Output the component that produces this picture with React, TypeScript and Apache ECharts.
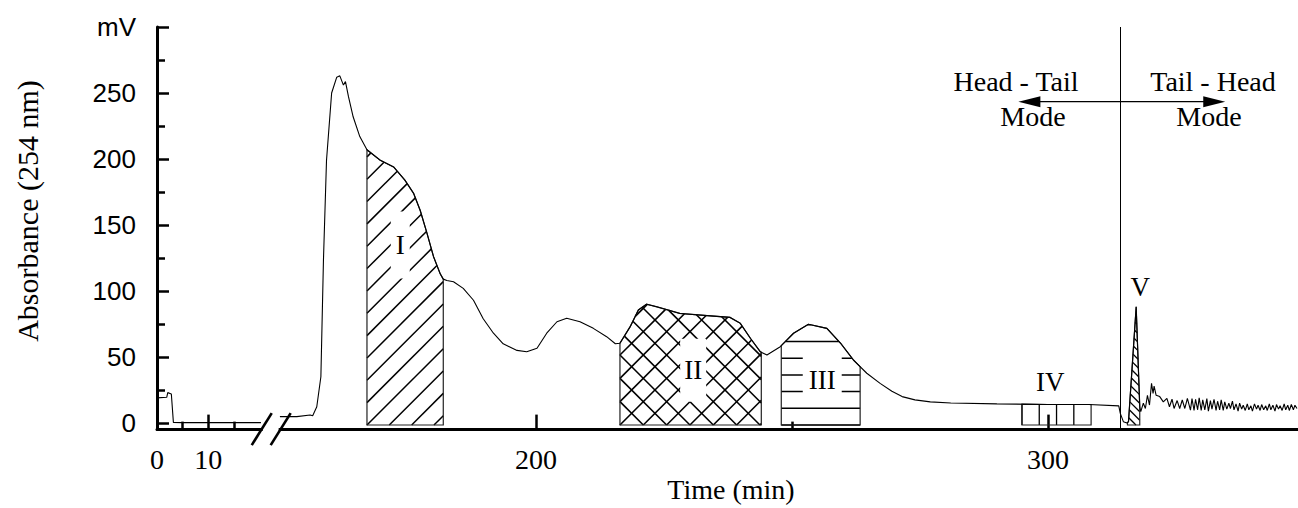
import React, { useEffect, useRef } from "react";
import * as echarts from "echarts";

// Time shift applied to the right-hand part of the broken time axis
const BREAK_SHIFT = 126;
const toAxis = (t: number) => (t < 100 ? t : t - BREAK_SHIFT);
const fromAxis = (v: number) => (v < 22 ? v : v + BREAK_SHIFT);

// ---- signal, first segment (0 - 20 min) ----
const leftTime = [0, 1.9, 2.1, 2.8, 3.2, 5, 10, 15, 20.3];
const leftValue = [19, 19.5, 23, 22, 0.5, 0.3, 0.3, 0.3, 0.3];

// ---- signal, second segment (150 - 348 min) ----
const rightTime = [
  150.0, 153.3, 155.9, 156.4, 157.2, 158.0, 158.5, 159.1, 160.1, 161.1, 161.7, 162.4, 162.8, 163.4,
  164.3, 165.6, 167.0, 169.6, 172.2, 174.4, 176.1, 177.4, 178.7, 180.0, 181.3, 181.9, 182.6, 183.9,
  185.8, 187.8, 189.7, 191.7, 193.6, 196.3, 198.2, 200.2, 202.1, 204.1, 206.0, 208.6, 211.2, 213.8,
  215.5, 216.4, 218.4, 220.0, 221.6, 223.6, 228.1, 234.7, 237.9, 239.9, 241.9, 243.8, 245.1, 247.7,
  250.3, 253.2, 256.8, 259.5, 262.0, 264.6, 267.2, 269.5, 271.5, 274.0, 277.0, 281.0, 290.0, 300.0,
  308.0, 313.8, 314.1, 314.7, 315.4, 315.7, 317.2, 317.9, 318.1, 318.6, 319.0, 319.4, 319.8, 320.2,
  320.5, 320.7, 321.1, 321.8, 322.5, 323.2, 323.7, 324.2, 324.6, 325.2, 325.7, 326.2, 326.7, 327.2,
  327.8, 328.1, 328.5, 328.8, 329.2, 329.5, 329.9, 330.2, 330.6, 331.0, 331.3, 331.7, 332.0, 332.4,
  332.8, 333.1, 333.5, 333.8, 334.2, 334.5, 334.9, 335.3, 335.6, 336.0, 336.3, 336.7, 337.1, 337.4,
  337.8, 338.1, 338.5, 338.9, 339.2, 339.6, 339.9, 340.3, 340.7, 341.0, 341.4, 341.7, 342.1, 342.5,
  342.8, 343.2, 343.5, 343.9, 344.3, 344.6, 345.0, 345.3, 345.7, 346.1, 346.4, 346.8, 347.1, 347.5,
  347.9, 348.2, 348.6,
];
const rightValue = [
  4.8, 4.8, 6.1, 5.5, 12.3, 35, 123, 199, 250, 262, 263, 256, 258.6, 247,
  232, 217, 207, 199, 194, 184, 174, 161, 144, 126, 113, 109, 108, 107,
  102, 93, 79, 68, 60, 55, 54, 56.6, 68, 76.7, 79.3, 76.7, 71.7, 65.4,
  60, 60.4, 73, 85.6, 90, 88, 83, 81, 80, 75.5, 64, 54, 51.5, 57.8,
  68, 74.8, 71.7, 60.4, 47.7, 37.7, 30, 24, 20, 17.5, 16, 15.2, 14.5, 14,
  14, 13, 7.3, 1, 0, 1, 88, 12.3, 8.6, 15, 11, 21, 13.6, 30,
  22.5, 28, 21, 20, 16, 18.7, 12.3, 18, 11, 17, 11, 17.4, 11, 18.7,
  9.8, 18.5, 9.5, 18, 10, 19, 9.5, 17.5, 10, 18.5, 9, 17, 10.5, 18,
  9.5, 16.5, 10, 17.5, 9.5, 16, 10.5, 15, 11, 16.5, 10, 14.5, 9, 15,
  10.5, 13.5, 9.5, 14.5, 10, 13, 9, 14.5, 10.5, 13.5, 9.5, 14, 10, 13,
  9.5, 14.5, 10, 13.5, 9, 14, 10.5, 13, 9.5, 14.5, 10, 13.5, 9.5, 14,
  10, 13.5, 11,
];

// ---- collected fractions ----
const regionLabels = ["I", "II", "III", "IV", "V"];
const regionStart = [167.0, 216.4, 247.9, 294.9, 315.5];
const regionEnd = [181.9, 244.0, 263.3, 308.4, 317.9];
const regionLabelTime = [173.5, 230.7, 255.9, 300.4, 318.0];
const regionLabelValue = [134.8, 40, 32.6, 31, 103];

// ---- axes ----
const xLabels = [0, 10, 200, 300];
const xMajorTicks = [10, 200, 300];
const xMinorTicks = [5, 15, 250];
const yLabels = [0, 50, 100, 150, 200, 250, 300];
const yMajorTicks = [0, 50, 100, 150, 200, 250, 300];
const yMinorTicks = [25, 75, 125, 175, 225, 275];
const breakTimes = [20.35, 150.05];
const dividerTime = 314.1;
const arrowTimes = [294.2, 334.6];
const arrowValue = 243.4;

const REGION_FLOOR = -1.5;
const SERIF = '"Liberation Serif", "Times New Roman", serif';
const SANS = '"Liberation Sans", Arial, sans-serif';

// hatch style per region (direction vectors in screen space)
const regionStyles: any[] = [
  { dirs: [[1, -1]], spacing: 15.8, lw: 1.5, pad: [20, 5] },
  { dirs: [[1, -1], [1, 1]], spacing: 16.5, lw: 1.6, pad: [18, 4] },
  { dirs: [[1, 0]], spacing: 16.7, lw: 1.5, pad: [12, 6] },
  { dirs: [[0, 1]], divisions: 4, lw: 1.3, pad: null },
  { dirs: [[1, 1]], spacing: 6, lw: 1.3, pad: null },
];

function curveAt(t: number) {
  for (let k = 0; k < rightTime.length - 1; k++) {
    if (t >= rightTime[k] && t <= rightTime[k + 1]) {
      const f = (t - rightTime[k]) / (rightTime[k + 1] - rightTime[k]);
      return rightValue[k] + f * (rightValue[k + 1] - rightValue[k]);
    }
  }
  return 0;
}

function hatchSegments(poly: number[][], dx: number, dy: number, spacing: number, anchor: number[]) {
  const len = Math.hypot(dx, dy);
  const ux = dx / len, uy = dy / len;
  const nx = -uy, ny = ux;
  const d = poly.map((p) => p[0] * nx + p[1] * ny);
  const a0 = anchor[0] * nx + anchor[1] * ny;
  const kmin = Math.ceil((Math.min(...d) - a0) / spacing);
  const kmax = Math.floor((Math.max(...d) - a0) / spacing);
  const segs: number[][] = [];
  for (let k = kmin; k <= kmax; k++) {
    const c = a0 + k * spacing;
    const hits: number[][] = [];
    for (let i = 0; i < poly.length; i++) {
      const j = (i + 1) % poly.length;
      const dp = d[i] - c, dq = d[j] - c;
      if ((dp < 0) !== (dq < 0)) {
        const s = dp / (dp - dq);
        const x = poly[i][0] + s * (poly[j][0] - poly[i][0]);
        const y = poly[i][1] + s * (poly[j][1] - poly[i][1]);
        hits.push([x, y, x * ux + y * uy]);
      }
    }
    hits.sort((a, b) => a[2] - b[2]);
    for (let h = 0; h + 1 < hits.length; h += 2) {
      segs.push([hits[h][0], hits[h][1], hits[h + 1][0], hits[h + 1][1]]);
    }
  }
  return segs;
}

function renderRegion(params: any, api: any) {
  const i = params.dataIndex;
  const t0 = regionStart[i], t1 = regionEnd[i];
  const pts: number[][] = [];
  pts.push(api.coord([toAxis(t0), REGION_FLOOR]));
  pts.push(api.coord([toAxis(t0), curveAt(t0)]));
  rightTime.forEach((t, k) => {
    if (t > t0 && t < t1) pts.push(api.coord([toAxis(t), rightValue[k]]));
  });
  pts.push(api.coord([toAxis(t1), curveAt(t1)]));
  pts.push(api.coord([toAxis(t1), REGION_FLOOR]));
  const st = regionStyles[i];
  const spacing = st.divisions ? (pts[pts.length - 1][0] - pts[0][0]) / st.divisions : st.spacing;
  const children: any[] = [];
  st.dirs.forEach((dir: number[]) => {
    hatchSegments(pts, dir[0], dir[1], spacing, pts[0]).forEach((s) =>
      children.push({
        type: "line",
        shape: { x1: s[0], y1: s[1], x2: s[2], y2: s[3] },
        style: { stroke: "#000", lineWidth: st.lw },
      })
    );
  });
  children.push({
    type: "polygon",
    shape: { points: pts },
    style: { fill: "none", stroke: "#222", lineWidth: 1.2 },
  });
  const lp = api.coord([toAxis(regionLabelTime[i]), regionLabelValue[i]]);
  const textStyle: any = {
    text: regionLabels[i],
    fill: "#000",
    fontSize: 27,
    fontFamily: SERIF,
    align: "center",
    verticalAlign: "middle",
  };
  if (st.pad) {
    textStyle.backgroundColor = "#fff";
    textStyle.padding = st.pad;
  }
  children.push({ type: "text", x: lp[0], y: lp[1], style: textStyle });
  return { type: "group", children };
}

export default function App() {
  const ref = useRef<HTMLDivElement>(null);
  useEffect(() => {
    if (!ref.current) return;
    const chart = echarts.init(ref.current, null, { renderer: "svg" });
    const axisCommon = { type: "value", splitLine: { show: false } };
    chart.setOption({
      animation: false,
      backgroundColor: "#fff",
      grid: { left: 157, right: 0, top: 27, bottom: 78.4 },
      xAxis: [
        {
          ...axisCommon,
          min: 0,
          max: 222.8,
          position: "bottom",
          axisLine: { show: true, onZero: false, lineStyle: { color: "#000", width: 3 } },
          axisTick: {
            show: true,
            inside: true,
            length: 15,
            customValues: xMajorTicks.map(toAxis),
            lineStyle: { color: "#000", width: 2.5 },
          },
          axisLabel: {
            show: true,
            customValues: xLabels.map(toAxis),
            formatter: (v: number) => String(Math.round(fromAxis(v))),
            color: "#000",
            fontFamily: SERIF,
            fontSize: 28,
            margin: 16,
          },
        },
        {
          ...axisCommon,
          min: 0,
          max: 222.8,
          position: "bottom",
          axisLine: { show: false, onZero: false },
          axisTick: {
            show: true,
            inside: true,
            length: 8,
            customValues: xMinorTicks.map(toAxis),
            lineStyle: { color: "#000", width: 2.5 },
          },
          axisLabel: { show: false },
        },
      ],
      yAxis: [
        {
          ...axisCommon,
          min: -5,
          max: 300,
          position: "left",
          axisLine: { show: true, onZero: false, lineStyle: { color: "#000", width: 3 } },
          axisTick: {
            show: true,
            inside: true,
            length: 12,
            customValues: yMajorTicks,
            lineStyle: { color: "#000", width: 2.5 },
          },
          axisLabel: {
            show: true,
            customValues: yLabels,
            formatter: (v: number) => (v === 300 ? "mV" : String(v)),
            color: "#000",
            fontFamily: SANS,
            fontSize: 26,
            margin: 21,
          },
        },
        {
          ...axisCommon,
          min: -5,
          max: 300,
          position: "left",
          axisLine: { show: false, onZero: false },
          axisTick: {
            show: true,
            inside: true,
            length: 8,
            customValues: yMinorTicks,
            lineStyle: { color: "#000", width: 2.5 },
          },
          axisLabel: { show: false },
        },
      ],
      series: [
        {
          type: "custom",
          xAxisIndex: 0,
          yAxisIndex: 0,
          renderItem: renderRegion,
          data: regionLabels.map((_, i) => [toAxis(regionStart[i]), 0]),
          silent: true,
          z: 1,
        },
        {
          type: "line",
          xAxisIndex: 0,
          yAxisIndex: 0,
          showSymbol: false,
          symbol: "none",
          lineStyle: { color: "#000", width: 1.1 },
          data: leftTime.map((t, i) => [toAxis(t), leftValue[i]]),
          silent: true,
          z: 3,
        },
        {
          type: "line",
          xAxisIndex: 0,
          yAxisIndex: 0,
          showSymbol: false,
          symbol: "none",
          lineStyle: { color: "#000", width: 1.1 },
          data: rightTime.map((t, i) => [toAxis(t), rightValue[i]]),
          silent: true,
          z: 3,
          markLine: {
            silent: true,
            symbol: "none",
            label: { show: false },
            lineStyle: { color: "#000", width: 1, type: "solid" },
            data: [{ xAxis: toAxis(dividerTime) }],
          },
        },
      ],
    });

    const px = (t: number, v: number) =>
      chart.convertToPixel({ seriesIndex: 1 }, [toAxis(t), v]) as number[];
    const b1 = px(breakTimes[0], -5);
    const b2 = px(breakTimes[1], -5);
    const slash = (p: number[]) => ({
      type: "line",
      shape: { x1: p[0] - 9.5, y1: p[1] + 15.5, x2: p[0] + 10.5, y2: p[1] - 16.5 },
      style: { stroke: "#000", lineWidth: 2.6 },
      z: 20,
    });
    const a1 = px(arrowTimes[0], arrowValue);
    const a2 = px(arrowTimes[1], arrowValue);
    const ah = 22, aw = 5.5;
    const txt = (text: string, x: number, y: number, size = 28, extra: any = {}) => ({
      type: "text",
      x,
      y,
      z: 20,
      ...extra,
      style: {
        text,
        fill: "#000",
        fontFamily: SERIF,
        fontSize: size,
        align: "center",
        verticalAlign: "middle",
      },
    });
    chart.setOption({
      graphic: [
        {
          type: "rect",
          shape: { x: b1[0] + 1.5, y: b1[1] - 3, width: b2[0] - b1[0] - 3, height: 6 },
          style: { fill: "#fff" },
          z: 19,
        },
        slash(b1),
        slash(b2),
        {
          type: "line",
          shape: { x1: a1[0] + ah - 2, y1: a1[1], x2: a2[0] - ah + 2, y2: a2[1] },
          style: { stroke: "#000", lineWidth: 1.2 },
          z: 20,
        },
        {
          type: "polygon",
          shape: { points: [[a1[0], a1[1]], [a1[0] + ah, a1[1] - aw], [a1[0] + ah, a1[1] + aw]] },
          style: { fill: "#000" },
          z: 20,
        },
        {
          type: "polygon",
          shape: { points: [[a2[0], a2[1]], [a2[0] - ah, a2[1] - aw], [a2[0] - ah, a2[1] + aw]] },
          style: { fill: "#000" },
          z: 20,
        },
        txt("Head - Tail", 1016, 81),
        txt("Mode", 1033, 116),
        txt("Tail - Head", 1213, 81),
        txt("Mode", 1209, 116),
        txt("Time (min)", 731, 489),
        txt("Absorbance (254 nm)", 27, 211, 30, { rotation: Math.PI / 2 }),
      ],
    });
    return () => chart.dispose();
  }, []);
  return (
    <div
      ref={ref}
      style={{ position: "fixed", left: 0, top: 0, width: 1298, height: 508, background: "#fff" }}
    />
  );
}
